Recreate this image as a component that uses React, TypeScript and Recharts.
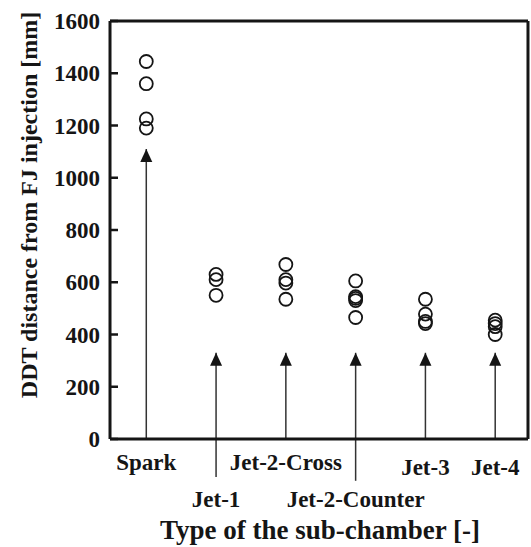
import React from 'react';
import { ScatterChart, Scatter, XAxis, YAxis, ReferenceLine } from 'recharts';

const categories = ['Spark', 'Jet-1', 'Jet-2-Cross', 'Jet-2-Counter', 'Jet-3', 'Jet-4'];
const sparkValues = [1445, 1360, 1225, 1190];
const jet1Values = [630, 610, 550];
const jet2CrossValues = [668, 610, 597, 535];
const jet2CounterValues = [605, 545, 538, 530, 465];
const jet3Values = [535, 478, 450, 442];
const jet4Values = [455, 442, 430, 400];
const arrowTips = [1110, 330, 330, 330, 330, 330];
const arrowTails = [0, -145, 0, -160, 0, 0];
const yMajorTicks = [0, 200, 400, 600, 800, 1000, 1200, 1400, 1600];
const yMinorTicks = Array.from({ length: 33 }, (_, i) => i * 50);
const xTicks = [1, 2, 3, 4, 5, 6];

const seriesValues = [sparkValues, jet1Values, jet2CrossValues, jet2CounterValues, jet3Values, jet4Values];
const points = seriesValues.flatMap((vals, i) => vals.map((v) => ({ x: i + 1, y: v })));
const arrowHeads = arrowTips.map((v, i) => ({ x: i + 1, y: v }));

const FONT = "'Liberation Serif', 'Times New Roman', serif";
const INK = '#151515';
const textStyle: React.CSSProperties = { fontFamily: FONT, fontWeight: 700 };

const XTick = (props: any) => {
  const { x, y, payload } = props;
  const i = Number(payload.value) - 1;
  const dy = i === 1 || i === 3 ? 68 : i >= 4 ? 36 : 31;
  return (
    <text x={x} y={y + dy} textAnchor="middle" style={textStyle} fontSize={23} fill={INK}>
      {categories[i]}
    </text>
  );
};

const YTick = (props: any) => {
  const { x, y, payload } = props;
  return (
    <text x={x - 18} y={y} dy="0.35em" textAnchor="end" style={textStyle} fontSize={23} fill={INK}>
      {payload.value}
    </text>
  );
};

const NoTick = () => <g />;

const OpenCircle = (p: any) => (
  <circle cx={p.cx} cy={p.cy} r={6.5} fill="none" stroke={INK} strokeWidth={1.8} />
);

const ArrowHead = (p: any) => (
  <path d={`M${p.cx},${p.cy} L${p.cx - 6},${p.cy + 13} L${p.cx + 6},${p.cy + 13} Z`} fill={INK} />
);

export default function App() {
  return (
    <div style={{ position: 'absolute', left: 0, top: 0, background: '#fff' }}>
      <ScatterChart width={531} height={547} margin={{ top: 21, right: 3, bottom: 0, left: 110 }}>
        <XAxis
          type="number"
          dataKey="x"
          domain={[0.48, 6.47]}
          ticks={xTicks}
          interval={0}
          tickLine={false}
          tickSize={0}
          tickMargin={0}
          height={108}
          axisLine={{ stroke: INK, strokeWidth: 3 }}
          tick={<XTick />}
          label={{
            content: () => (
              <text x={320} y={539} textAnchor="middle" style={textStyle} fontSize={27} fill={INK}>
                Type of the sub-chamber [-]
              </text>
            ),
          }}
        />
        <YAxis
          yAxisId="a_minor"
          type="number"
          domain={[0, 1600]}
          ticks={yMinorTicks}
          interval={0}
          mirror
          width={0.01}
          tickSize={5}
          tick={<NoTick />}
          axisLine={false}
          tickLine={{ stroke: INK, strokeWidth: 2.5 }}
        />
        <YAxis
          yAxisId="b_major"
          type="number"
          dataKey="y"
          domain={[0, 1600]}
          ticks={yMajorTicks}
          interval={0}
          mirror
          width={0.01}
          tickSize={8}
          tickMargin={0}
          axisLine={{ stroke: INK, strokeWidth: 3 }}
          tickLine={{ stroke: INK, strokeWidth: 2.5 }}
          tick={<YTick />}
          label={{
            content: () => (
              <text
                transform="translate(29,205) rotate(-90)"
                dy="0.35em"
                textAnchor="middle"
                style={textStyle}
                fontSize={24}
                fill={INK}
              >
                DDT distance from FJ injection [mm]
              </text>
            ),
          }}
        />
        <YAxis
          yAxisId="c_rminor"
          orientation="right"
          type="number"
          domain={[0, 1600]}
          ticks={yMinorTicks}
          interval={0}
          mirror
          width={0.01}
          tickSize={5}
          tick={<NoTick />}
          axisLine={false}
          tickLine={{ stroke: INK, strokeWidth: 2.5 }}
        />
        <YAxis
          yAxisId="d_rmajor"
          orientation="right"
          type="number"
          domain={[0, 1600]}
          ticks={yMajorTicks}
          interval={0}
          mirror
          width={0.01}
          tickSize={8}
          tick={<NoTick />}
          axisLine={{ stroke: INK, strokeWidth: 3 }}
          tickLine={{ stroke: INK, strokeWidth: 2.5 }}
        />
        <ReferenceLine yAxisId="b_major" y={1600} stroke={INK} strokeWidth={3} />
        {arrowTips.map((tip, i) => (
          <ReferenceLine
            key={i}
            yAxisId="b_major"
            ifOverflow="visible"
            segment={[
              { x: i + 1, y: arrowTails[i] },
              { x: i + 1, y: tip },
            ]}
            stroke="#333"
            strokeWidth={1.5}
          />
        ))}
        <Scatter yAxisId="b_major" data={arrowHeads} shape={ArrowHead} isAnimationActive={false} />
        <Scatter yAxisId="b_major" data={points} shape={OpenCircle} isAnimationActive={false} />
      </ScatterChart>
    </div>
  );
}
